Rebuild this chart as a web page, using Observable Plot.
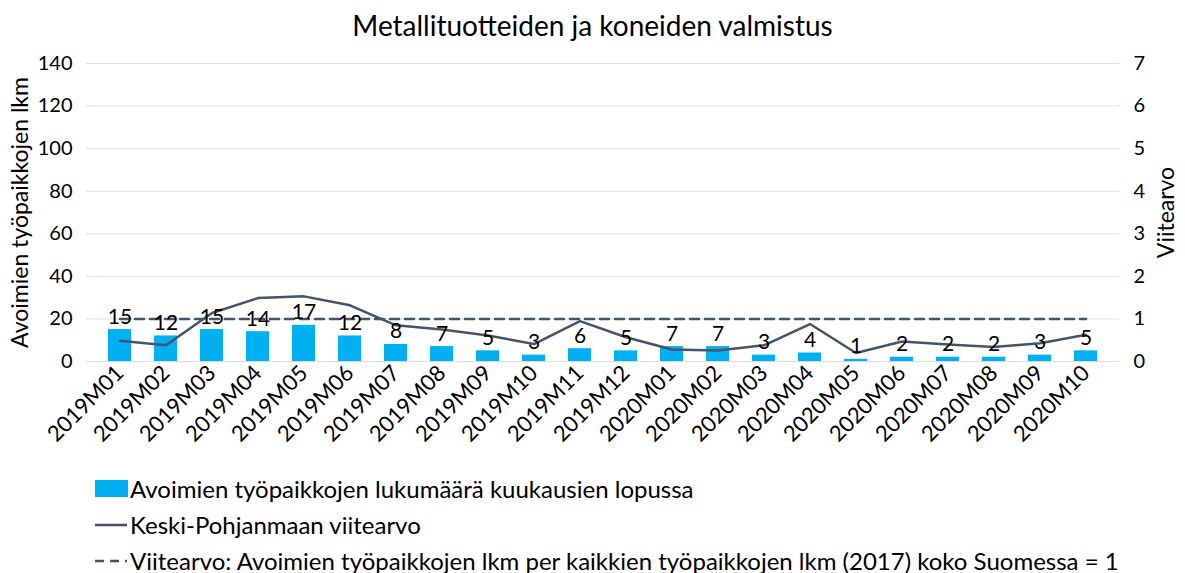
<!DOCTYPE html>
<html>
<head>
<meta charset="utf-8">
<script src="https://cdn.jsdelivr.net/npm/d3@7"></script>
<script src="https://cdn.jsdelivr.net/npm/@observablehq/plot@0.6"></script>
<style>
  body { margin: 0; background: #fff; font-family: Lato, "Open Sans", sans-serif; }
  #title { height: 50px; line-height: 50px; text-align: center; font-size: 28px; color: #000; }
  #legend { margin-left: 95px; font-size: 24px; color: #000; }
  .row { display: flex; align-items: center; height: 36px; }
  .sw { width: 33px; height: 17px; margin-right: 2px; }
  svg { overflow: visible; }
</style>
</head>
<body>
<div id="title">Metallituotteiden ja koneiden valmistus</div>
<div id="chart"></div>
<div id="legend"></div>
<script>
const months = ["2019M01","2019M02","2019M03","2019M04","2019M05","2019M06","2019M07","2019M08","2019M09","2019M10","2019M11","2019M12","2020M01","2020M02","2020M03","2020M04","2020M05","2020M06","2020M07","2020M08","2020M09","2020M10"];
const openJobs = [15,12,15,14,17,12,8,7,5,3,6,5,7,7,3,4,1,2,2,2,3,5];
const regionIndex = [0.49,0.38,1.14,1.49,1.53,1.32,0.85,0.75,0.61,0.41,0.95,0.57,0.28,0.26,0.38,0.88,0.20,0.47,0.40,0.34,0.43,0.63];
const nationalIndex = 1;
const leftTicks = [0,20,40,60,80,100,120,140];
const ratio = 20; // 140 / 7

const barColor = "#00B0F0";
const lineColor = "#44546A";
const gridColor = "#d9dee6";

const data = months.map((m, i) => ({month: m, jobs: openJobs[i], idx: regionIndex[i], nat: nationalIndex}));

const W = 1185, ML = 92, MR = 72;
const halfStep = (W - ML - MR) / months.length / 2;

const chart = Plot.plot({
  width: W,
  height: 420,
  marginLeft: ML,
  marginRight: MR,
  marginTop: 13,
  marginBottom: 109,
  style: {fontFamily: "Lato, 'Open Sans', sans-serif", fontSize: "20px", color: "#000", background: "#fff", overflow: "visible"},
  x: {domain: months, paddingInner: 0.49, paddingOuter: 0.245, label: null},
  y: {domain: [0, 140], label: null},
  marks: [
    Plot.gridY(leftTicks, {stroke: gridColor, strokeOpacity: 1}),
    Plot.axisY(leftTicks, {anchor: "left", tickSize: 6, stroke: gridColor, tickPadding: 14, fontSize: 20, label: null}),
    Plot.axisY(leftTicks, {anchor: "right", tickSize: 6, stroke: gridColor, tickPadding: 14, fontSize: 20, tickFormat: d => d / ratio, label: null}),
    Plot.ruleX([months[0]], {x: months[0], dx: -halfStep, stroke: gridColor}),
    Plot.ruleX([months[months.length-1]], {x: months[months.length-1], dx: halfStep, stroke: gridColor}),
    Plot.barY(data, {x: "month", y: "jobs", fill: barColor}),
    Plot.ruleY([0], {stroke: gridColor}),
    Plot.line(data, {x: "month", y: d => d.idx * ratio, stroke: lineColor, strokeWidth: 2.5}),
    Plot.line(data, {x: "month", y: d => d.nat * ratio, stroke: lineColor, strokeWidth: 2.5, strokeDasharray: "9,6"}),
    Plot.text(data, {x: "month", y: "jobs", text: d => String(d.jobs), lineAnchor: "bottom", dy: -6, fontSize: 21, fill: "#000"}),
    Plot.axisX({tickRotate: -45, tickSize: 0, tickPadding: 8, fontSize: 22, label: null}),
    Plot.text(["Avoimien työpaikkojen lkm"], {frameAnchor: "left", textAnchor: "middle", dx: -72, rotate: -90, fontSize: 23, fill: "#000"}),
    Plot.text(["Viitearvo"], {frameAnchor: "right", textAnchor: "middle", dx: 53, rotate: -90, fontSize: 23, fill: "#000"})
  ]
});
document.getElementById("chart").appendChild(chart);

const legendItems = [
  {label: "Avoimien työpaikkojen lukumäärä kuukausien lopussa", type: "bar"},
  {label: "Keski-Pohjanmaan viitearvo", type: "line"},
  {label: "Viitearvo: Avoimien työpaikkojen lkm per kaikkien työpaikkojen lkm (2017) koko Suomessa = 1", type: "dash"}
];
const legend = document.getElementById("legend");
for (const it of legendItems) {
  const row = document.createElement("div");
  row.className = "row";
  let sw;
  if (it.type === "bar") {
    sw = `<div class="sw" style="background:${barColor}"></div>`;
  } else {
    const dash = it.type === "dash" ? 'stroke-dasharray="9,6"' : "";
    sw = `<svg width="33" height="17" style="margin-right:2px"><line x1="0" x2="32" y1="9" y2="9" stroke="${lineColor}" stroke-width="2.5" ${dash}/></svg>`;
  }
  row.innerHTML = sw + `<span>${it.label}</span>`;
  legend.appendChild(row);
}
</script>
</body>
</html>
